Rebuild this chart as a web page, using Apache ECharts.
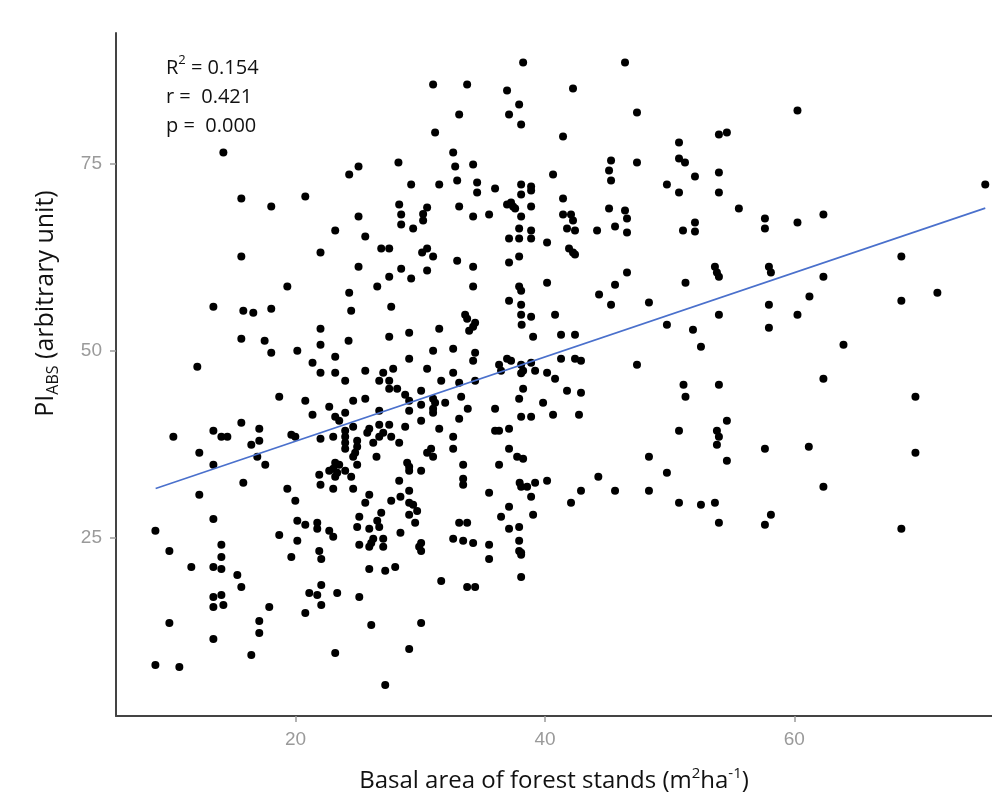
<!DOCTYPE html>
<html>
<head>
<meta charset="utf-8">
<script src="https://cdn.jsdelivr.net/npm/echarts@6/dist/echarts.min.js"></script>
<style>
html,body{margin:0;padding:0;background:#fff;}
#chart{width:992px;height:795px;}
</style>
</head>
<body>
<div id="chart"></div>
<script>
// ---- data ----
const xTicks = [20, 40, 60];
const yTicks = [25, 50, 75];
const xRange = [5.6, 75.85];
const yRange = [1.18, 92.48];
const statLines = ['R2 = 0.154', 'r =  0.421', 'p =  0.000'];
const xTitle = 'Basal area of forest stands (m2ha-1)';
const yTitle = 'PIABS (arbitrary unit)';
// fitted regression line end points
const fitLine = [[8.78, 31.6], [75.31, 69.07]];
// [basal area, PI_ABS]
const stands = [
[13.41,55.90],[15.81,55.36],[16.61,55.10],[18.05,55.63],[24.46,55.36],[27.67,55.90],[22.00,52.96],[15.65,51.62],
[17.52,51.35],[18.05,49.75],[20.14,50.01],[22.00,50.82],[24.25,51.35],[27.51,51.89],[12.12,47.87],[21.36,48.41],
[23.18,49.21],[22.00,47.07],[23.18,47.07],[23.98,46.00],[25.59,47.34],[26.71,46.00],[27.03,47.07],[27.51,46.00],
[27.83,47.60],[27.51,44.93],[28.15,44.93],[18.69,43.86],[20.78,43.32],[22.70,42.52],[24.62,43.32],[25.59,43.59],
[21.36,41.45],[23.18,41.18],[23.50,40.65],[23.98,41.72],[26.71,41.98],[10.20,38.51],[13.41,39.31],[14.05,38.51],
[14.53,38.51],[15.65,40.38],[17.09,39.58],[16.45,37.44],[17.09,37.97],[19.66,38.77],[19.98,38.51],[22.00,38.24],
[23.02,38.51],[23.98,39.31],[23.98,38.51],[23.98,37.70],[23.98,36.90],[24.62,39.84],[24.94,37.97],[24.94,37.17],
[24.78,36.37],[24.62,35.83],[24.94,34.76],[25.91,39.58],[25.75,39.04],[26.23,37.70],[26.71,38.51],[27.03,39.04],
[26.71,40.11],[27.51,40.11],[27.67,38.51],[28.31,37.70],[26.49,35.83],[12.28,36.37],[13.41,34.76],[16.93,35.83],
[17.57,34.76],[15.81,32.35],[23.18,35.03],[23.50,34.76],[23.02,34.22],[23.34,33.69],[23.18,33.15],[22.70,33.96],
[23.98,33.96],[24.46,33.15],[21.90,33.42],[22.00,32.08],[23.02,31.55],[24.62,31.55],[12.28,30.75],[19.34,31.55],
[19.98,29.94],[25.59,29.68],[25.91,30.75],[28.31,32.62],[27.67,29.94],[28.41,30.48],[13.41,27.53],[8.76,25.93],
[18.69,25.39],[20.14,27.27],[20.78,26.73],[21.74,27.00],[21.74,26.20],[22.70,25.93],[23.02,25.13],[25.11,27.80],
[24.94,26.46],[25.91,26.20],[26.55,27.27],[26.71,26.46],[26.87,28.34],[26.23,24.86],[26.07,24.32],[25.91,23.79],
[27.03,24.86],[27.03,23.79],[25.11,24.06],[28.41,25.66],[20.14,24.59],[9.88,23.25],[14.05,24.06],[14.05,22.45],
[13.41,21.11],[14.05,20.84],[11.64,21.11],[19.66,22.45],[21.90,23.25],[22.06,22.18],[15.33,20.04],[15.65,18.44],
[25.91,20.84],[27.19,20.58],[27.99,21.11],[13.41,17.10],[14.05,17.37],[13.41,15.76],[14.21,16.03],[17.89,15.76],
[20.78,14.96],[21.10,17.63],[21.74,17.37],[22.06,18.70],[22.06,16.03],[23.34,17.63],[25.11,17.10],[9.88,13.62],
[17.09,13.89],[17.09,12.28],[26.07,13.35],[13.41,11.48],[16.45,9.34],[23.18,9.61],[8.76,8.00],[10.68,7.73],
[27.19,5.32],[14.21,76.51],[25.05,74.63],[24.30,73.56],[28.25,75.17],[15.65,70.35],[18.05,69.28],[20.78,70.62],
[28.31,69.55],[25.05,67.94],[28.47,68.21],[28.47,66.87],[23.18,66.07],[25.59,65.27],[26.87,63.66],[27.51,63.66],
[22.00,63.13],[15.65,62.59],[25.05,61.25],[27.51,59.91],[28.47,60.98],[19.34,58.58],[26.55,58.58],[24.30,57.77],
[29.11,52.42],[29.11,48.94],[30.55,47.60],[28.79,44.13],[29.11,43.32],[30.07,44.66],[30.07,42.79],[29.11,41.98],
[30.07,40.65],[28.79,39.84],[30.55,36.37],[28.95,35.03],[29.11,34.49],[29.11,33.96],[30.07,33.96],[29.11,31.28],
[29.11,29.68],[29.43,29.41],[29.75,28.60],[29.11,28.07],[29.59,27.00],[30.07,24.32],[29.91,23.79],[30.07,23.25],
[31.52,52.96],[33.60,54.83],[33.76,54.29],[34.40,53.76],[34.24,53.22],[33.92,52.69],[38.13,53.49],[39.05,51.89],
[41.29,52.15],[42.41,52.15],[31.03,50.01],[32.64,50.28],[34.40,49.75],[34.24,48.67],[41.29,48.94],[42.41,48.94],
[42.89,48.67],[32.64,47.07],[31.68,46.00],[33.12,45.73],[34.40,46.00],[36.32,48.14],[36.96,48.94],[37.28,48.67],
[36.48,47.34],[38.09,48.14],[38.25,47.34],[38.09,46.99],[38.89,48.41],[39.21,47.34],[40.17,47.07],[40.81,46.27],
[31.03,43.59],[31.19,43.05],[31.03,42.25],[31.03,41.72],[32.00,43.05],[33.28,43.86],[33.81,42.25],[33.12,40.91],
[31.52,39.58],[38.25,44.93],[37.93,43.59],[39.85,43.05],[41.77,44.66],[42.89,44.39],[36.00,42.25],[38.09,41.18],
[38.89,41.18],[40.65,41.45],[42.73,41.45],[36.00,39.31],[36.32,39.31],[37.12,39.58],[32.64,38.51],[32.64,36.90],
[30.87,36.90],[31.03,35.83],[37.12,36.90],[37.77,35.83],[38.25,35.56],[33.44,34.76],[36.32,34.76],[33.44,32.89],
[33.44,32.08],[37.97,32.35],[38.09,31.82],[38.57,31.82],[39.21,32.35],[40.17,32.62],[38.89,30.48],[35.52,31.01],
[44.28,33.15],[42.89,31.28],[45.62,31.28],[42.09,29.68],[37.12,29.14],[36.48,27.80],[39.05,28.07],[33.12,27.00],
[33.76,27.00],[37.12,26.20],[37.93,26.46],[32.64,24.86],[33.44,24.59],[34.24,24.32],[35.52,24.06],[35.52,22.18],
[37.93,24.59],[37.93,23.25],[38.09,22.99],[38.09,22.72],[31.68,19.24],[33.76,18.44],[34.40,18.44],[38.09,19.77],
[30.07,13.62],[29.11,10.14],[32.64,76.51],[32.80,74.63],[34.24,74.90],[32.96,72.76],[31.52,72.22],[34.56,72.49],
[34.56,71.15],[36.00,71.69],[38.09,72.22],[38.09,70.89],[38.89,71.96],[38.89,71.42],[40.65,73.56],[45.30,75.43],
[45.14,74.10],[45.30,72.76],[33.12,69.28],[34.24,67.94],[35.52,68.21],[36.96,69.55],[37.28,69.82],[37.44,69.28],
[37.61,69.01],[38.09,67.94],[38.89,69.28],[41.45,70.35],[41.45,68.21],[42.09,68.21],[42.25,67.41],[41.77,66.34],
[42.41,66.07],[45.14,69.01],[44.18,66.07],[45.62,66.60],[30.55,69.15],[30.23,68.28],[30.23,67.41],[37.93,66.34],
[37.12,65.00],[37.93,65.00],[38.89,66.07],[38.89,65.00],[40.17,64.46],[41.93,63.66],[42.25,63.13],[42.41,62.86],
[30.55,63.66],[30.15,63.13],[31.03,62.59],[30.55,60.72],[32.96,62.05],[34.24,61.25],[37.12,61.79],[37.93,62.59],
[34.24,58.58],[40.17,59.11],[37.93,58.58],[38.09,58.04],[37.12,56.70],[38.09,56.17],[45.62,58.84],[44.34,57.51],
[45.30,56.17],[38.09,54.83],[38.89,54.56],[40.81,54.83],[38.25,88.55],[46.42,88.55],[31.03,85.60],[33.76,85.60],
[36.96,84.80],[42.25,85.07],[37.93,82.93],[33.12,81.59],[37.12,81.59],[38.09,80.25],[47.38,81.86],[31.19,79.18],
[41.45,78.65],[50.75,77.84],[50.75,75.70],[47.38,75.17],[29.27,72.22],[49.78,72.22],[50.75,71.15],[29.43,66.34],
[46.42,68.74],[46.58,67.67],[46.58,65.80],[46.58,60.45],[29.27,59.65],[48.34,56.44],[49.78,53.49],[60.25,82.12],
[53.95,78.91],[54.59,79.18],[51.23,75.17],[52.03,73.29],[53.95,73.83],[53.95,71.15],[75.31,72.22],[55.55,69.01],
[57.64,67.67],[57.64,66.34],[60.25,67.14],[62.33,68.21],[52.03,67.14],[52.03,65.93],[51.07,66.07],[51.27,59.11],
[53.63,61.25],[53.79,60.45],[53.95,59.91],[57.96,61.25],[58.12,60.45],[62.33,59.91],[61.21,57.24],[68.58,62.59],
[68.58,56.70],[71.47,57.77],[53.95,54.83],[57.96,56.17],[60.25,54.83],[51.87,52.82],[57.96,53.09],[52.51,50.55],
[63.94,50.82],[47.38,48.14],[51.11,45.46],[51.27,43.86],[53.95,45.46],[62.33,46.27],[69.71,43.86],[54.59,40.65],
[50.75,39.31],[53.79,39.31],[53.95,38.51],[53.79,37.44],[57.64,36.90],[61.16,37.17],[69.71,36.37],[48.34,35.83],
[54.59,35.29],[49.78,33.69],[48.34,31.28],[62.33,31.82],[50.75,29.68],[52.51,29.41],[53.63,29.68],[53.95,27.00],
[57.64,26.73],[58.12,28.07],[68.58,26.20]
];

// ---- chart ----
const chart = echarts.init(document.getElementById('chart'), null, {renderer: 'canvas'});
const titleFont = '"Open Sans", "Liberation Sans", sans-serif';
const tickFont = '"Liberation Sans", Arial, sans-serif';

const axisCommon = {
  type: 'value',
  splitLine: {show: false},
  axisLine: {show: true, onZero: false, lineStyle: {color: '#444444', width: 2}},
};

chart.setOption({
  animation: false,
  backgroundColor: '#ffffff',
  grid: {left: 116, top: 33, width: 876, height: 683, containLabel: false, outerBoundsMode: 'none'},
  xAxis: Object.assign({}, axisCommon, {
    min: xRange[0], max: xRange[1],
    axisTick: {show: true, length: 6, customValues: xTicks, lineStyle: {color: '#9a9a9a', width: 1.5}},
    axisLabel: {customValues: xTicks, color: '#9a9a9a', fontSize: 19, fontFamily: tickFont, margin: 14},
    name: '{b|Basal area of forest stands (m}{sup|2}{b|ha}{sup|-1}{b|)}',
    nameLocation: 'middle',
    nameGap: 50,
    nameTextStyle: {
      color: '#111', fontFamily: titleFont,
      rich: {
        b: {fontSize: 24, lineHeight: 30, fontFamily: titleFont, color: '#111'},
        sup: {fontSize: 15, lineHeight: 18, verticalAlign: 'top', fontFamily: titleFont, color: '#111'}
      }
    }
  }),
  yAxis: Object.assign({}, axisCommon, {
    min: yRange[0], max: yRange[1],
    axisTick: {show: true, length: 6, customValues: yTicks, lineStyle: {color: '#9a9a9a', width: 1.5}},
    axisLabel: {customValues: yTicks, color: '#9a9a9a', fontSize: 19, fontFamily: tickFont, margin: 14},
    name: '{b|PI}{sub|ABS}{b| (arbitrary unit)}',
    nameLocation: 'middle',
    nameRotate: 90,
    nameGap: 55,
    nameTextStyle: {
      color: '#111', fontFamily: titleFont,
      padding: [0, 0, 0, 142],
      rich: {
        b: {fontSize: 25, lineHeight: 30, fontFamily: titleFont, color: '#111'},
        sub: {fontSize: 16, lineHeight: 18, verticalAlign: 'bottom', fontFamily: titleFont, color: '#111'}
      }
    }
  }),
  graphic: [{
    type: 'text',
    left: 166,
    top: 54,
    silent: true,
    style: {
      text: '{a|R}{s|2}{a| = 0.154}\n{a|' + statLines[1] + '}\n{a|' + statLines[2] + '}',
      fill: '#111',
      rich: {
        a: {fontSize: 20, lineHeight: 29, fontFamily: titleFont, fill: '#111', color: '#111'},
        s: {fontSize: 13, lineHeight: 17, verticalAlign: 'top', fontFamily: titleFont, fill: '#111', color: '#111'}
      }
    }
  }],
  series: [
    {
      type: 'scatter',
      data: stands,
      symbol: 'circle',
      symbolSize: 8,
      itemStyle: {color: '#000000', opacity: 1},
      emphasis: {disabled: true},
      silent: true,
      z: 2
    },
    {
      type: 'line',
      data: fitLine,
      showSymbol: false,
      symbol: 'none',
      lineStyle: {color: '#4a70cc', width: 1.6},
      emphasis: {disabled: true},
      silent: true,
      z: 3
    }
  ]
});
</script>
</body>
</html>
